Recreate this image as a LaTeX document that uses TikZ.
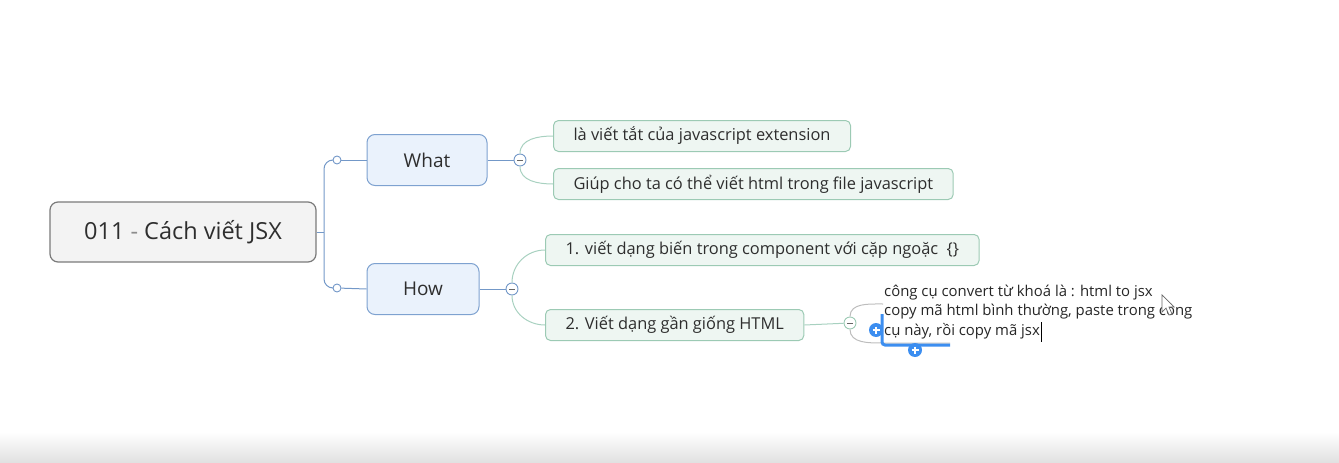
\documentclass[tikz,border=0pt]{standalone}
\usepackage{fontspec}
\setmainfont{Open Sans}
\usetikzlibrary{positioning, arrows.meta, shapes.geometric, calc}

\definecolor{rootfill}{HTML}{F3F3F3}
\definecolor{rootline}{HTML}{7A7A7A}
\definecolor{mainfill}{HTML}{EAF2FC}
\definecolor{mainline}{HTML}{7EA2D0}
\definecolor{subfill}{HTML}{EEF6F2}
\definecolor{subline}{HTML}{9CCAB4}
\definecolor{blueline}{HTML}{7398C8}
\definecolor{greenline}{HTML}{A8D1C0}
\definecolor{grayline}{HTML}{BDBDBD}
\definecolor{selblue}{HTML}{3C8EF0}
\definecolor{textgray}{HTML}{2E2E2E}

\begin{document}
\begin{tikzpicture}[x=1pt, y=-1pt,
    roottopic/.style={draw=rootline, fill=rootfill, line width=1.2pt, rounded corners=8pt,
        minimum width=266pt, minimum height=60pt, text=textgray, font=\fontsize{23.5}{26}\selectfont},
    maintopic/.style={draw=mainline, fill=mainfill, line width=1pt, rounded corners=8pt,
        minimum height=51pt, text=textgray, font=\fontsize{19}{22}\selectfont},
    subtopic/.style={draw=subline, fill=subfill, line width=1pt, rounded corners=5pt,
        minimum height=31pt, inner xsep=20pt, anchor=west, text=textgray, font=\fontsize{16.4}{19}\selectfont},
    leaftext/.style={anchor=west, inner sep=0pt, align=left, text=black!85,
        font=\fontsize{14.9}{20}\selectfont},
    collapse/.style={circle, draw=#1, fill=white, line width=0.9pt, minimum size=12pt, inner sep=0pt,
        path picture={\draw[black!60, line width=1pt] ($(path picture bounding box.center)+(-3pt,0)$)
        -- ($(path picture bounding box.center)+(3pt,0)$);}},
    dot/.style={circle, draw=blueline, fill=white, line width=0.9pt, minimum size=8pt, inner sep=0pt}]
    \useasboundingbox (0,0) rectangle (1339,463);
    % Window bottom band
    \shade [top color=white, bottom color=black!12] (0,432) rectangle (1339,463);
    % Central topic
    \node (root) at (183,232) [roottopic] {011 {\color{black!45}-} Cách viết JSX};
    \coordinate (rj) at (324,232);
    % Main topics
    \node (what) at (427,160) [maintopic, minimum width=120pt] {What};
    \node (how) at (423,289) [maintopic, minimum width=112pt] {How};
    \node (wdot) at (337,160) [dot] {};
    \node (hdot) at (337,288) [dot] {};
    \draw [blueline, line width=1pt] (root.east) -- (rj);
    \draw [blueline, line width=1pt, rounded corners=9pt] (wdot.west) -| (rj) |- (hdot.west);
    \draw [blueline, line width=1pt] (wdot) -- (what.west); \draw [blueline, line width=1pt] (hdot) -- (how.west);
    % Subtopics of What
    \node (wc) at (520,160) [collapse=blueline] {};
    \node (s1) at (553,136) [subtopic] {là viết tắt của javascript extension};
    \node (s2) at (553,184) [subtopic] {Giúp cho ta có thể viết html trong file javascript};
    \draw [blueline, line width=1pt] (what.east) -- (wc);
    \draw [greenline, line width=1pt] (wc.north) to[out=90, in=180] (s1.west);
    \draw [greenline, line width=1pt] (wc.south) to[out=-90, in=180] (s2.west);
    % Subtopics of How
    \node (hc) at (512,289) [collapse=blueline] {};
    \node (s3) at (545,250) [subtopic] {1. viết dạng biến trong component với cặp ngoặc~~\{\}};
    \node (s4) at (545,325) [subtopic] {2. Viết dạng gần giống HTML};
    \draw [blueline, line width=1pt] (how.east) -- (hc);
    \draw [greenline, line width=1pt] (hc.north) to[out=90, in=180] (s3.west);
    \draw [greenline, line width=1pt] (hc.south) to[out=-90, in=180] (s4.west);
    % Leaves of step 2 (second one being edited)
    \node (sc) at (850,323) [collapse=subline] {};
    \draw [greenline, line width=1pt] (s4.east) -- (sc);
    \node (t1) at (884,293) [leaftext] {công cụ convert từ khoá là : html to jsx};
    \node (t2) at (884,322) [leaftext] {copy mã html bình thường, paste trong công\\cụ này, rồi copy mã jsx};
    \coordinate (u1) at (883,304); \coordinate (u2) at (883,343); \coordinate (u2e) at (950,343);
    \draw [grayline, line width=1pt] (sc.north) to[out=90, in=180] (u1);
    \draw [grayline, line width=1pt] (sc.south) to[out=-90, in=180] (u2) -- (u2e);
    % Selection frame and its handles
    \draw [selblue, line width=3pt, rounded corners=3pt] (882,314) -- (882,345) -- (950,345);
    \fill [selblue] (876,330) circle (7); \fill [selblue] (915,350) circle (7);
    \draw [white, line width=1.6pt] (872.5,330) -- (879.5,330) (876,326.5) -- (876,333.5);
    \draw [white, line width=1.6pt] (911.5,350) -- (918.5,350) (915,346.5) -- (915,353.5);
    % Text cursor and mouse pointer
    \draw [black, line width=0.8pt] (1041,322) -- (1041,342);
    \draw [black!60, fill=white, line width=0.7pt] (1162,295) -- (1162,312) -- (1166,308) -- (1169,315)
        -- (1172,314) -- (1169,307) -- (1174,307) -- cycle;
\end{tikzpicture}
\end{document}
